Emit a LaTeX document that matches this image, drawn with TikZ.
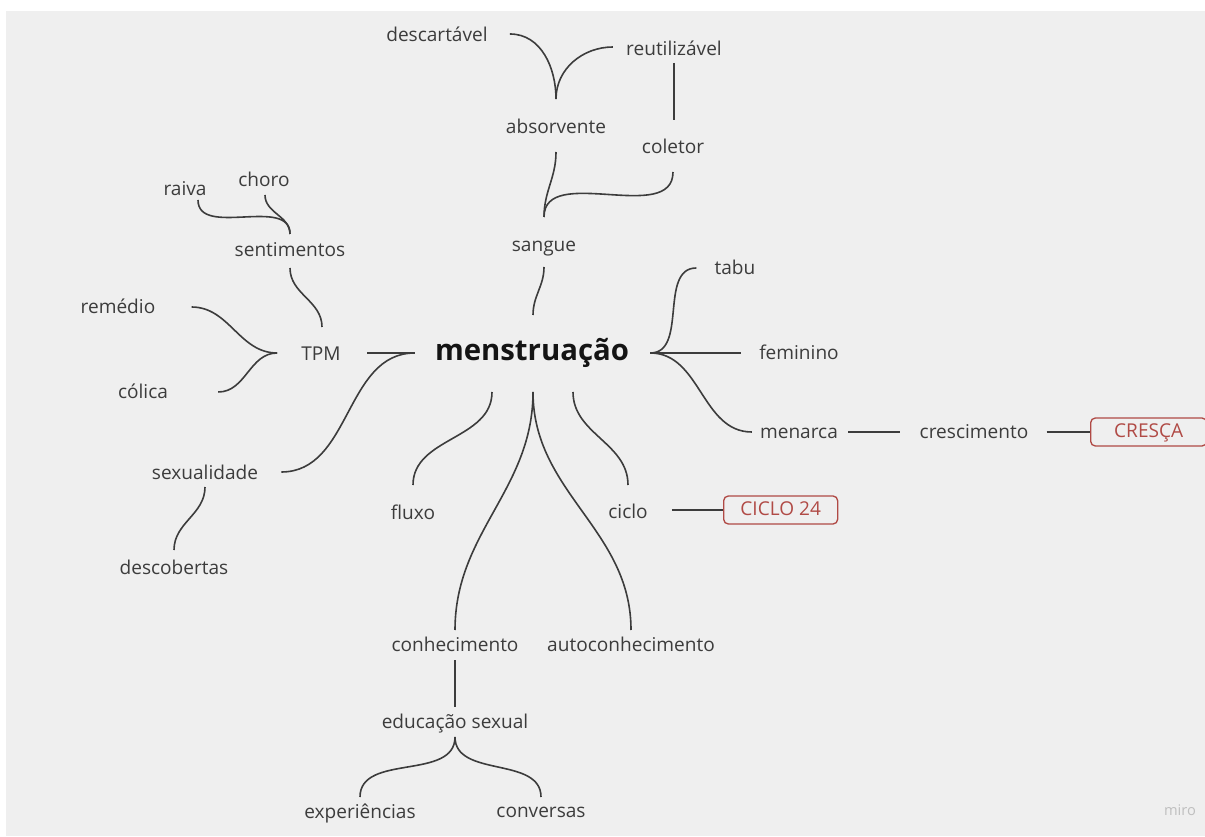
\documentclass[tikz,border=0pt]{standalone}
\usepackage{fontspec}
\setmainfont{Open Sans}
\usetikzlibrary{calc}
\definecolor{boardgray}{HTML}{EFEFEF}
\definecolor{ink}{HTML}{3C3C3C}
\definecolor{tagred}{HTML}{B04A45}
\begin{document}
\begin{tikzpicture}[x=0.75pt, y=0.75pt,
    topic/.style={text=ink, inner sep=0pt, text height=2.1ex, text depth=.25ex,
                  font=\fontsize{14.3}{16}\selectfont},
    root/.style={text=black!92, inner sep=0pt, text height=2.4ex, text depth=.25ex,
                 font=\fontsize{22}{26}\selectfont\bfseries},
    tag/.style={topic, text height=1.9ex, draw=tagred, text=tagred, line width=1pt,
                rounded corners=3.5pt, minimum height=21pt},
    link/.style={draw=ink, line width=1.2pt}]

    % 1. fundo do quadro (margem branca em cima e à esquerda)
    \fill[white] (0,0) rectangle (1205,836);
    \fill[boardgray] (6,0) rectangle (1205,825);
    \useasboundingbox (0,0) rectangle (1205,836);

    % 2. nós
    \node[root]  (mens)  at (532,483) {menstruação};
    \node[topic] (sang)  at (544,591) {sangue};
    \node[topic] (abso)  at (556,709) {absorvente};
    \node[topic] (desc)  at (437,801) {descartável};
    \node[topic] (reut)  at (674,787) {reutilizável};
    \node[topic] (cole)  at (673,689) {coletor};
    \node[topic] (tabu)  at (735,568) {tabu};
    \node[topic] (femi)  at (799,483) {feminino};
    \node[topic] (mena)  at (799,404) {menarca};
    \node[topic] (cres)  at (974,404) {crescimento};
    \node[tag, minimum width=87pt, anchor=west] (cresca) at (1090,404) {CRESÇA};
    \node[topic] (tpm)   at (321,482) {TPM};
    \node[topic] (sent)  at (290,586) {sentimentos};
    \node[topic] (raiva) at (185,647) {raiva};
    \node[topic] (choro) at (264,656) {choro};
    \node[topic] (reme)  at (118,529) {remédio};
    \node[topic] (coli)  at (143,444) {cólica};
    \node[topic] (sexu)  at (205,363) {sexualidade};
    \node[topic] (desco) at (174,268) {descobertas};
    \node[topic] (flux)  at (413,323) {fluxo};
    \node[topic] (cicl)  at (628,324) {ciclo};
    \node[tag, minimum width=85.5pt, anchor=west] (ciclo24) at (723,326) {CICLO 24};
    \node[topic] (conh)  at (455,191) {conhecimento};
    \node[topic] (auto)  at (631,191) {autoconhecimento};
    \node[topic] (educ)  at (455,114) {educação sexual};
    \node[topic] (expe)  at (360,24) {experiências};
    \node[topic] (conv)  at (541,25) {conversas};
    \node[text=black!25, font=\fontsize{11}{13}\selectfont] (miro) at (1180,26) {miro};

    % 3. ramo de cima: sangue
    \draw[link] ($(mens)+(1,38)$) to[out=90,in=-90] ($(sang)+(0,-22)$);
    \draw[link] ($(sang)+(0,28)$) to[out=90,in=-90] ($(abso)+(0,-25)$);
    \draw[link] ($(sang)+(0,28)$) to[out=90,in=-90] ($(cole)+(0,-25)$);
    \draw[link] ($(abso)+(0,28)$) to[out=90,in=0] ($(desc.east)+(22,1)$);
    \draw[link] ($(abso)+(0,28)$) to[out=90,in=180] ($(reut.west)+(-13,2)$);
    \draw[link] ($(reut)+(0,-14)$) -- ($(cole)+(1,27)$);

    % 4. ramo da direita
    \draw[link] ($(mens.east)+(21,0)$) to[out=0,in=180] ($(tabu.west)+(-18,0)$);
    \draw[link] ($(mens.east)+(21,0)$) -- ($(femi.west)+(-18,0)$);
    \draw[link] ($(mens.east)+(21,0)$) to[out=0,in=180] ($(mena.west)+(-8,0)$);
    \draw[link] ($(mena.east)+(10,0)$) -- ($(cres.west)+(-19,0)$);
    \draw[link] ($(cres.east)+(18,0)$) -- (cresca.west);

    % 5. ramo da esquerda
    \draw[link] ($(mens.west)+(-20,0)$) -- ($(tpm.east)+(26,1)$);
    \draw[link] ($(mens.west)+(-20,0)$) to[out=180,in=0] ($(sexu.east)+(23,1)$);
    \draw[link] ($(tpm.west)+(-24,1)$) to[out=180,in=0] ($(reme.east)+(36,0)$);
    \draw[link] ($(tpm.west)+(-24,1)$) to[out=180,in=0] ($(coli.east)+(50,0)$);
    \draw[link] ($(tpm)+(1,27)$) to[out=90,in=-90] ($(sent)+(0,-18)$);
    \draw[link] ($(sent)+(0,16)$) to[out=90,in=-90] ($(choro)+(1,-15)$);
    \draw[link] ($(sent)+(0,16)$) to[out=90,in=-90] ($(raiva)+(13,-11)$);
    \draw[link] ($(sexu)+(0,-14)$) to[out=-90,in=90] ($(desco)+(0,18)$);

    % 6. ramo de baixo
    \draw[link] ($(mens)+(-40,-39)$) to[out=-90,in=90] ($(flux)+(0,28)$);
    \draw[link] ($(mens)+(41,-39)$) to[out=-90,in=90] ($(cicl)+(0,27)$);
    \draw[link] ($(cicl.east)+(24,2)$) -- (ciclo24.west);
    \draw[link] ($(mens)+(1,-39)$) to[out=-90,in=90] ($(conh)+(0,15)$);
    \draw[link] ($(mens)+(1,-39)$) to[out=-90,in=90] ($(auto)+(0,15)$);
    \draw[link] ($(conh)+(0,-15)$) -- ($(educ)+(0,15)$);
    \draw[link] ($(educ)+(0,-15)$) to[out=-90,in=90] ($(expe)+(0,15)$);
    \draw[link] ($(educ)+(0,-15)$) to[out=-90,in=90] ($(conv)+(0,14)$);
\end{tikzpicture}
\end{document}
